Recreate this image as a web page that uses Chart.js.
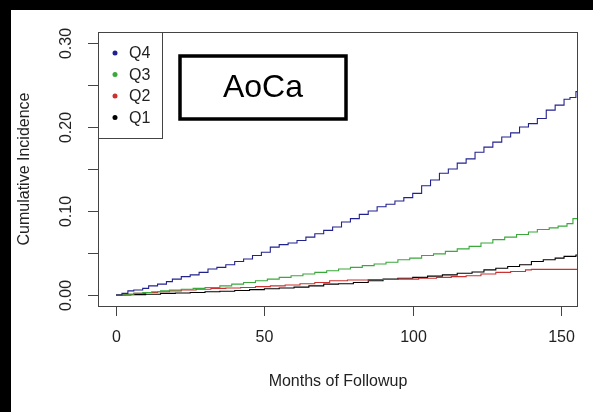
<!DOCTYPE html>
<html>
<head>
<meta charset="utf-8">
<script src="https://cdn.jsdelivr.net/npm/chart.js@4"></script>
<style>
  html, body { margin: 0; padding: 0; background: #fff; }
  #wrap { width: 593px; height: 412px; }
</style>
</head>
<body>
<div id="wrap"><canvas id="chart" width="593" height="412"></canvas></div>
<script>
// data (months, cumulative incidence)
const q4Months = [0,2,4,6,9,11,14,17,19,22,25,28,31,34,37,40,43,46,49,52,55,58,61,64,67,70,73,76,79,82,85,88,91,94,97,100,103,106,109,112,115,118,121,124,127,130,133,136,139,142,145,148,151,153,155,155.7];
const q4Values = [0,0.002,0.005,0.006,0.008,0.011,0.013,0.016,0.019,0.022,0.024,0.027,0.031,0.033,0.036,0.040,0.043,0.047,0.051,0.057,0.060,0.062,0.065,0.069,0.073,0.077,0.081,0.087,0.091,0.096,0.100,0.105,0.108,0.112,0.116,0.121,0.130,0.137,0.145,0.150,0.157,0.162,0.170,0.176,0.182,0.188,0.193,0.200,0.204,0.210,0.220,0.226,0.233,0.235,0.242,0.242];

const q3Months = [0,3,6,9,12,15,18,22,26,30,35,39,43,47,51,55,59,63,67,71,75,79,83,87,91,95,99,103,107,111,115,119,123,127,131,135,139,142,146,149,152,154,155.7];
const q3Values = [0,0.001,0.002,0.003,0.004,0.005,0.006,0.007,0.008,0.009,0.011,0.013,0.015,0.017,0.019,0.021,0.023,0.025,0.027,0.029,0.031,0.033,0.035,0.037,0.039,0.042,0.044,0.047,0.049,0.052,0.055,0.058,0.062,0.066,0.069,0.072,0.075,0.078,0.080,0.082,0.085,0.091,0.091];

const q2Months = [0,3,6,10,14,18,22,27,32,37,42,47,52,57,62,67,72,78,85,95,102,108,113,118,123,128,133,138,140,155.7];
const q2Values = [0,0.001,0.002,0.003,0.004,0.005,0.006,0.007,0.008,0.0085,0.009,0.010,0.011,0.012,0.0135,0.015,0.017,0.018,0.0185,0.019,0.020,0.021,0.022,0.023,0.025,0.027,0.028,0.030,0.0306,0.0306];

const q1Months = [0,5,10,15,20,25,30,35,40,45,50,55,60,65,70,75,80,85,90,95,100,105,110,115,120,124,128,132,136,140,144,148,151,155,155.7];
const q1Values = [0,0.0005,0.001,0.002,0.0025,0.003,0.004,0.0045,0.0055,0.0065,0.0075,0.0085,0.0095,0.011,0.013,0.0135,0.015,0.017,0.019,0.020,0.021,0.0225,0.024,0.026,0.0275,0.030,0.032,0.034,0.036,0.040,0.042,0.044,0.046,0.0476,0.0476];

const seriesLabels = ['Q4', 'Q3', 'Q2', 'Q1'];
const xTicks = [0, 50, 100, 150];
const yTicks = [0, 0.05, 0.10, 0.15, 0.20, 0.25, 0.30];
const yTickLabels = ['0.00', '', '0.10', '', '0.20', '', '0.30'];

const FONT = '"Liberation Sans", Arial, Helvetica, sans-serif';

function toPoints(months, values) {
    return months.map((m, i) => ({ x: m, y: values[i] }));
}

// R style frame, ticks, legend and label box
const rStyle = {
    id: 'rStyle',
    beforeDraw(chart) {
        const ctx = chart.ctx;
        ctx.save();
        ctx.fillStyle = '#fff';
        ctx.fillRect(0, 0, chart.width, chart.height);
        ctx.restore();
    },
    afterDraw(chart) {
        const ctx = chart.ctx;
        const a = chart.chartArea;
        const xs = chart.scales.x;
        const ys = chart.scales.y;
        ctx.save();

        // plot box
        ctx.strokeStyle = '#444';
        ctx.lineWidth = 1;
        ctx.strokeRect(a.left + 0.5, a.top + 0.5, a.right - a.left - 1, a.bottom - a.top);

        // x axis ticks + labels
        ctx.fillStyle = '#222';
        ctx.font = '16px ' + FONT;
        ctx.textAlign = 'center';
        ctx.textBaseline = 'middle';
        xTicks.forEach(t => {
            const px = Math.round(xs.getPixelForValue(t)) + 0.5;
            ctx.beginPath();
            ctx.moveTo(px, a.bottom);
            ctx.lineTo(px, a.bottom + 10);
            ctx.stroke();
            ctx.fillText(String(t), px, 338);
        });

        // y axis ticks + rotated labels
        yTicks.forEach((t, i) => {
            const py = Math.round(ys.getPixelForValue(t)) + 0.5;
            ctx.beginPath();
            ctx.moveTo(a.left - 10, py);
            ctx.lineTo(a.left, py);
            ctx.stroke();
            if (yTickLabels[i]) {
                ctx.save();
                ctx.translate(67, py);
                ctx.rotate(-Math.PI / 2);
                ctx.fillText(yTickLabels[i], 0, 0);
                ctx.restore();
            }
        });

        // axis titles
        ctx.font = '16px ' + FONT;
        ctx.fillText('Months of Followup', (a.left + a.right) / 2, 382);
        ctx.save();
        ctx.translate(25, (a.top + a.bottom) / 2);
        ctx.rotate(-Math.PI / 2);
        ctx.fillText('Cumulative Incidence', 0, 0);
        ctx.restore();

        // legend
        ctx.fillStyle = '#fff';
        ctx.fillRect(a.left + 1, a.top + 1, 63, 106);
        ctx.strokeStyle = '#444';
        ctx.strokeRect(a.left + 0.5, a.top + 0.5, 64, 106);
        ctx.textAlign = 'left';
        chart.data.datasets.forEach((ds, i) => {
            const y = 53 + i * 21.5;
            ctx.fillStyle = ds.borderColor;
            ctx.beginPath();
            ctx.arc(115, y, 2.5, 0, Math.PI * 2);
            ctx.fill();
            ctx.fillStyle = '#222';
            ctx.fillText(ds.label, 129, y + 1);
        });

        // AoCa label box
        ctx.strokeStyle = '#000';
        ctx.lineWidth = 3.5;
        ctx.strokeRect(180, 56, 166, 63);
        ctx.fillStyle = '#000';
        ctx.font = '32px ' + FONT;
        ctx.textAlign = 'center';
        ctx.fillText('AoCa', 263, 88);

        // black edges of the cropped image
        ctx.fillRect(0, 0, chart.width, 10);
        ctx.fillRect(0, 0, 11, chart.height);

        ctx.restore();
    }
};

const colors = ['#22228f', '#3aa83a', '#cc3030', '#000000'];
const seriesData = [
    toPoints(q4Months, q4Values),
    toPoints(q3Months, q3Values),
    toPoints(q2Months, q2Values),
    toPoints(q1Months, q1Values)
];

new Chart(document.getElementById('chart').getContext('2d'), {
    type: 'line',
    data: {
        datasets: seriesLabels.map((label, i) => ({
            label: label,
            data: seriesData[i],
            borderColor: colors[i],
            borderWidth: 1.1,
            pointRadius: 0,
            stepped: true,
            fill: false
        }))
    },
    options: {
        responsive: false,
        animation: false,
        layout: { padding: { left: 98, right: 15, top: 32, bottom: 106 } },
        scales: {
            x: { type: 'linear', min: -6.07, max: 155.7, display: false },
            y: { type: 'linear', min: -0.013, max: 0.313, display: false }
        },
        plugins: {
            legend: { display: false },
            tooltip: { enabled: false }
        }
    },
    plugins: [rStyle]
});
</script>
</body>
</html>
